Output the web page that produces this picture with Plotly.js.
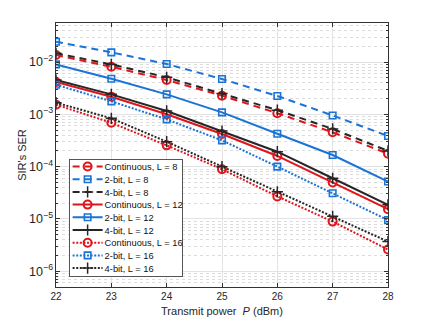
<!DOCTYPE html>
<html>
<head>
<meta charset="utf-8">
<script src="https://cdn.plot.ly/plotly-3.0.1.min.js"></script>
<style>
html,body{margin:0;padding:0;background:#fff;}
#chart{width:429px;height:322px;}
</style>
</head>
<body>
<div id="chart"></div>
<script>
// Data
var power = [22, 23, 24, 25, 26, 27, 28];
var cont8  = [0.0136, 0.0081, 0.00453, 0.00227, 0.00105, 0.000453, 0.000177];
var bit2_8 = [0.0244, 0.0153, 0.00916, 0.00473, 0.00224, 0.00095, 0.000385];
var bit4_8 = [0.0147, 0.0090, 0.0051, 0.0025, 0.0012, 0.000525, 0.0002];
var cont12  = [0.00415, 0.00217, 0.00100, 0.00042, 0.00016, 5.0e-5, 1.54e-5];
var bit2_12 = [0.0090, 0.0048, 0.00241, 0.00109, 0.000425, 0.000167, 5.2e-5];
var bit4_12 = [0.00453, 0.00241, 0.00116, 0.00048, 0.000193, 6.0e-5, 1.86e-5];
var cont16  = [0.00153, 0.00069, 0.000255, 8.9e-5, 2.7e-5, 8.9e-6, 2.6e-6];
var bit2_16 = [0.00368, 0.00177, 0.00080, 0.000318, 0.00010, 3.1e-5, 9.5e-6];
var bit4_16 = [0.00167, 0.00084, 0.00030, 0.00010, 3.3e-5, 1.12e-5, 3.7e-6];
var names = ['Continuous, L = 8', '2-bit, L = 8', '4-bit, L = 8',
             'Continuous, L = 12', '2-bit, L = 12', '4-bit, L = 12',
             'Continuous, L = 16', '2-bit, L = 16', '4-bit, L = 16'];

var RED = '#e0141b', BLUE = '#1a73d6', BLACK = '#262626';
var DASH = '7px,5px', DOT = '2px,1.6px';

function mk(y, name, color, dash, kind) {
  var marker;
  if (kind === 'c') marker = {symbol: 'circle-open', size: 8, color: color, line: {width: 2, color: color}};
  else if (kind === 's') marker = {symbol: 'square-open', size: 6.5, color: color, line: {width: 1.6, color: color}};
  else marker = {symbol: 'cross-thin-open', size: 8, color: color, line: {width: 1.5, color: color}};
  return {x: power, y: y, name: name, type: 'scatter', mode: 'lines+markers',
          line: {color: color, width: 2, dash: dash}, marker: marker};
}

var data = [
  mk(cont8, names[0], RED, DASH, 'c'),
  mk(bit2_8, names[1], BLUE, DASH, 's'),
  mk(bit4_8, names[2], BLACK, DASH, 'p'),
  mk(cont12, names[3], RED, 'solid', 'c'),
  mk(bit2_12, names[4], BLUE, 'solid', 's'),
  mk(bit4_12, names[5], BLACK, 'solid', 'p'),
  mk(cont16, names[6], RED, DOT, 'c'),
  mk(bit2_16, names[7], BLUE, DOT, 's'),
  mk(bit4_16, names[8], BLACK, DOT, 'p')
];

var layout = {
  width: 429, height: 322,
  margin: {l: 56, r: 41, t: 23, b: 35},
  paper_bgcolor: '#fff', plot_bgcolor: '#fff',
  font: {family: 'Liberation Sans, Arial, sans-serif', size: 10, color: '#262626'},
  showlegend: true,
  legend: {x: 0.038, y: 0.04, xanchor: 'left', yanchor: 'bottom',
           bgcolor: '#fff', bordercolor: '#555', borderwidth: 1,
           font: {size: 9.3, color: '#111'}, tracegroupgap: 0},
  xaxis: {
    range: [22, 28], dtick: 1, tick0: 22,
    showline: true, mirror: 'ticks', linecolor: '#333', linewidth: 1,
    ticks: 'inside', ticklen: 4, tickcolor: '#333',
    showgrid: true, gridcolor: '#e3e3e3', gridwidth: 1, zeroline: false,
    tickfont: {size: 10, color: '#262626'},
    title: {text: 'Transmit power  <i>P</i> (dBm)', font: {size: 11, color: '#262626'}, standoff: 6}
  },
  yaxis: {
    type: 'log', range: [Math.log10(5e-7), Math.log10(0.0557)], dtick: 1,
    exponentformat: 'power',
    showline: true, mirror: 'ticks', linecolor: '#333', linewidth: 1,
    ticks: 'inside', ticklen: 4, tickcolor: '#333',
    showgrid: true, gridcolor: '#e3e3e3', gridwidth: 1, zeroline: false,
    tickfont: {size: 10, color: '#262626'},
    minor: {dtick: 'D1', showgrid: true, gridcolor: '#dcdcdc', griddash: 'dot', gridwidth: 1,
            ticks: 'inside', ticklen: 2, tickcolor: '#333'},
    title: {text: "SIR's SER", font: {size: 11, color: '#262626'}, standoff: 0}
  }
};

Plotly.newPlot('chart', data, layout, {staticPlot: true, displayModeBar: false}).then(function (gd) {
  function tr(el) {
    var t = el.getAttribute('transform') || '';
    var m = /translate\(\s*([-\d.e]+)[ ,]+([-\d.e]+)/.exec(t);
    return m ? [parseFloat(m[1]), parseFloat(m[2])] : [0, 0];
  }
  // compact the legend rows to match the reference spacing
  var rowH = 12.7, firstY = 7.5, boxH = 117, boxW = 113.5, legendTop = 159;
  var lg = gd.querySelector('.legend');
  if (lg) {
    var offsetInLegend = function (el) {
      var y = 0, n = el.parentNode;
      while (n && n !== lg) { y += tr(n)[1]; n = n.parentNode; }
      return y;
    };
    var items = lg.querySelectorAll('.traces');
    for (var i = 0; i < items.length; i++) {
      var base = offsetInLegend(items[i]);
      var t = tr(items[i]);
      items[i].setAttribute('transform', 'translate(' + (t[0] - 2) + ',' + (firstY + i * rowH - base) + ')');
    }
    var txts = lg.querySelectorAll('.legendtext');
    for (var k = 0; k < txts.length; k++) txts[k].setAttribute('x', 37);
    var bg = lg.querySelector('.bg');
    if (bg) { bg.setAttribute('height', boxH); bg.setAttribute('width', boxW); }
    var lt = tr(lg);
    lg.setAttribute('transform', 'translate(' + lt[0] + ',' + legendTop + ')');
  }
});
</script>
</body>
</html>
